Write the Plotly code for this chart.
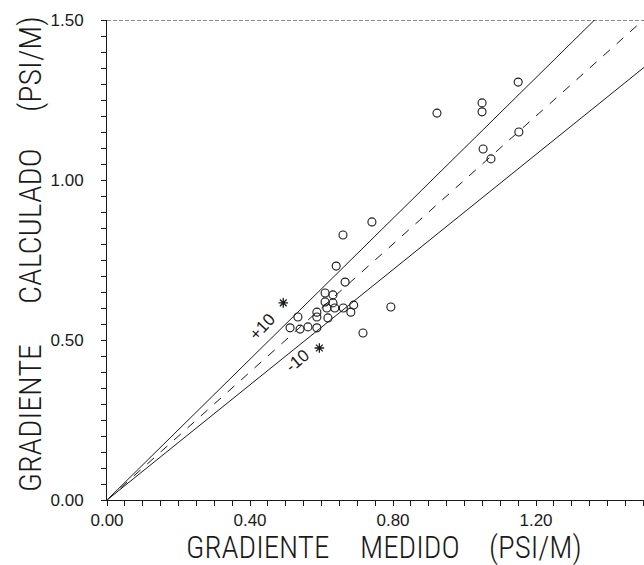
import plotly.graph_objects as go

# measured vs calculated gradient (PSI/M)
x_med = [0.923, 1.150, 1.049, 1.049, 1.152, 1.052, 1.074, 0.741, 0.660, 0.641,
         0.666, 0.610, 0.632, 0.610, 0.632, 0.637, 0.615, 0.587, 0.661, 0.690,
         0.682, 0.618, 0.587, 0.534, 0.512, 0.540, 0.562, 0.587, 0.716, 0.794]
y_calc = [1.209, 1.306, 1.241, 1.213, 1.150, 1.097, 1.066, 0.869, 0.828, 0.731,
          0.681, 0.647, 0.641, 0.619, 0.616, 0.600, 0.600, 0.587, 0.600, 0.609,
          0.587, 0.569, 0.572, 0.572, 0.538, 0.534, 0.541, 0.538, 0.522, 0.603]
x_ast = [0.493, 0.594]
y_ast = [0.616, 0.475]

ref_factors = [1.10, 1.00, 0.90]
line_x = [0.0, 1.6]

tick_step = 0.05
x_labels = {0.0: "0.00", 0.4: "0.40", 0.8: "0.80", 1.2: "1.20"}
y_labels = {0.0: "0.00", 0.5: "0.50", 1.0: "1.00", 1.5: "1.50"}

x_title_words = ["GRADIENTE", "MEDIDO", "(PSI/M)"]
y_title_words = ["GRADIENTE", "CALCULADO", "(PSI/M)"]

INK = "#1a1a1a"
FONT = "Liberation Sans"
TITLE_FONT = "Roboto Condensed, Liberation Sans Narrow, Liberation Sans"


def tick_list(vmax, labels):
    vals, texts = [], []
    n = int(round(vmax / tick_step))
    for i in range(n + 1):
        v = round(i * tick_step, 2)
        vals.append(v)
        texts.append(labels.get(v, ""))
    return vals, texts


xv, xt = tick_list(1.50, x_labels)
yv, yt = tick_list(1.50, y_labels)

fig = go.Figure()
for k in ref_factors:
    fig.add_trace(go.Scatter(
        x=line_x, y=[k * v for v in line_x], mode="lines",
        line=dict(color=INK, width=1, dash="dash" if k == 1.0 else "solid"),
        hoverinfo="skip", showlegend=False))

fig.add_trace(go.Scatter(
    x=x_med, y=y_calc, mode="markers",
    marker=dict(symbol="circle-open", size=8, color=INK, line=dict(width=1.1)),
    showlegend=False))
fig.add_trace(go.Scatter(
    x=x_ast, y=y_ast, mode="markers",
    marker=dict(symbol="asterisk-open", size=8, color=INK, line=dict(width=1.3, color=INK)),
    showlegend=False))

# top border (dotted)
fig.add_shape(type="line", xref="paper", yref="y", x0=0, x1=1, y0=1.5, y1=1.5,
              line=dict(color=INK, width=1, dash="4px,2px"))

fig.add_annotation(x=0.436, y=0.541, text="+10", showarrow=False, textangle=-47,
                   font=dict(family=FONT, size=17, color=INK))
fig.add_annotation(x=0.534, y=0.436, text="-10", showarrow=False, textangle=-40,
                   font=dict(family=FONT, size=17, color=INK))

# axis titles, word by word (plot area: x 107..644 px, y 20..500 px)
PW, PH = 537.0, 480.0
for word, cx in zip(x_title_words, [257, 410, 535]):
    fig.add_annotation(xref="paper", yref="paper", x=(cx - 107) / PW, y=(500 - 547) / PH,
                       text=word, showarrow=False, xanchor="center", yanchor="middle",
                       font=dict(family=TITLE_FONT, size=31, color=INK, weight=300))
for word, cy in zip(y_title_words, [418, 226, 64]):
    fig.add_annotation(xref="paper", yref="paper", x=(30 - 107) / PW, y=(500 - cy) / PH,
                       text=word, showarrow=False, textangle=-90,
                       xanchor="center", yanchor="middle",
                       font=dict(family=TITLE_FONT, size=32, color=INK, weight=300))

fig.update_layout(
    width=644, height=565,
    margin=dict(l=107, r=0, t=20, b=65),
    paper_bgcolor="white", plot_bgcolor="white",
    font=dict(family=FONT, color=INK),
    xaxis=dict(
        range=[0, 1.502], showgrid=False, zeroline=False,
        showline=True, linecolor=INK, linewidth=1,
        tickmode="array", tickvals=xv, ticktext=xt,
        ticks="outside", ticklen=5, tickcolor=INK, tickwidth=1,
        tickfont=dict(size=17, color=INK),
    ),
    yaxis=dict(
        range=[0, 1.5], showgrid=False, zeroline=False,
        showline=True, linecolor=INK, linewidth=1,
        tickmode="array", tickvals=yv, ticktext=yt,
        ticks="outside", ticklen=5, tickcolor=INK, tickwidth=1,
        tickfont=dict(size=17, color=INK),
        ticklabelstandoff=14,
    ),
)

fig.write_html("out.html")
